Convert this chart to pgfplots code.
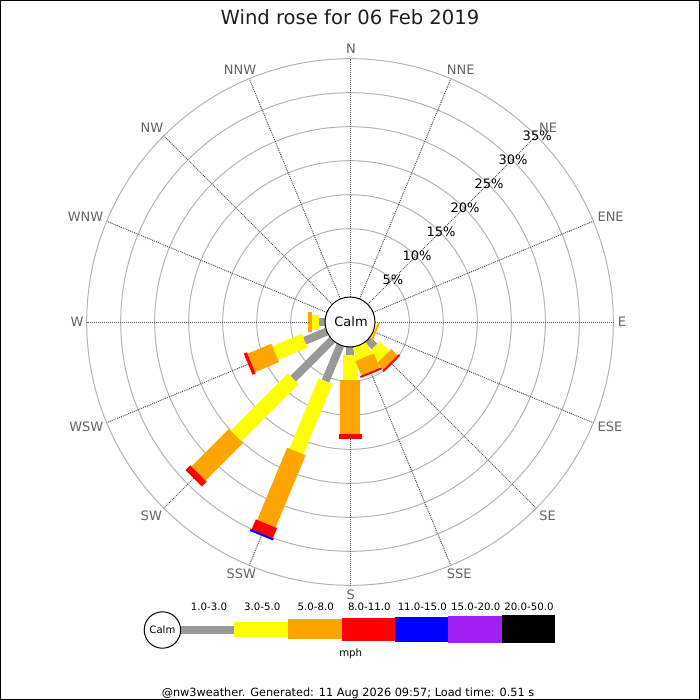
\documentclass[border=0pt]{standalone}
\usepackage{pgfplots}
\pgfplotsset{compat=1.18}
\usepackage{pgfplotstable}
\usepackage{fontspec}
\setmainfont{DejaVu Sans}
\definecolor{wgray}{RGB}{153,153,153}
\definecolor{wyellow}{RGB}{255,255,0}
\definecolor{worange}{RGB}{255,165,0}
\definecolor{wred}{RGB}{255,0,0}
\definecolor{wblue}{RGB}{0,0,255}
\definecolor{wpurple}{RGB}{160,32,240}
\definecolor{ringgray}{RGB}{180,180,180}
\definecolor{spokegray}{RGB}{85,85,85}
\definecolor{labgray}{RGB}{100,100,100}
\definecolor{txt}{RGB}{30,30,30}

% bearing (deg), cumulative % at end of each speed range
\pgfplotstableread{
b     g    y     o     r     bl
112.5 0.0  0.15  0.40  0.40  0.40
135   1.4  3.4   4.7   5.0   5.0
157.5 0.0  1.9   4.2   4.5   4.5
180   1.1  4.8   12.8  13.5  13.5
202.5 5.7  16.9  28.4  30.0  30.3
225   8.1  20.0  27.8  28.8  28.8
247.5 3.5  8.2   12.0  12.5  12.5
270   0.8  1.9   2.5   2.5   2.5
}\wind

\newcommand{\fs}[1]{\fontsize{#1}{#1}\selectfont}

\begin{document}
\begin{tikzpicture}
\begin{axis}[
  scale only axis, width=350pt, height=350pt,
  xmin=0, xmax=700, ymin=0, ymax=700, y dir=reverse,
  hide axis, clip=false,
]
\coordinate (BBa) at (axis cs:0,0);
\coordinate (BBb) at (axis cs:700,700);
% rings
\pgfplotsinvokeforeach{59.3,93.3,127.3,161.3,195.3,229.3,263.3}{
  \draw[ringgray, line width=0.5pt] (axis cs:350,322) circle[radius=#1];
}
% spokes
\pgfplotsinvokeforeach{0,22.5,...,337.5}{
  \draw[spokegray, line width=0.5pt, dash pattern=on 0.5pt off 0.5pt]
    (axis cs:{350+25*sin(#1)},{322-25*cos(#1)}) -- (axis cs:{350+263.3*sin(#1)},{322-263.3*cos(#1)});
}
% bars
\addplot[wgray, line width=4pt,
  quiver={u={6.8*(\thisrow{g})*sin(\thisrow{b})}, v={-6.8*(\thisrow{g})*cos(\thisrow{b})}}]
  table[x expr={350+6.8*3.72*sin(\thisrow{b})}, y expr={322-6.8*3.72*cos(\thisrow{b})}]{\wind};
\addplot[wyellow, line width=7.5pt,
  quiver={u={6.8*(\thisrow{y}-\thisrow{g})*sin(\thisrow{b})}, v={-6.8*(\thisrow{y}-\thisrow{g})*cos(\thisrow{b})}}]
  table[x expr={350+6.8*(3.72+\thisrow{g})*sin(\thisrow{b})}, y expr={322-6.8*(3.72+\thisrow{g})*cos(\thisrow{b})}]{\wind};
\addplot[worange, line width=10pt,
  quiver={u={6.8*(\thisrow{o}-\thisrow{y})*sin(\thisrow{b})}, v={-6.8*(\thisrow{o}-\thisrow{y})*cos(\thisrow{b})}}]
  table[x expr={350+6.8*(3.72+\thisrow{y})*sin(\thisrow{b})}, y expr={322-6.8*(3.72+\thisrow{y})*cos(\thisrow{b})}]{\wind};
\addplot[wred, line width=11.5pt,
  quiver={u={6.8*(\thisrow{r}-\thisrow{o})*sin(\thisrow{b})}, v={-6.8*(\thisrow{r}-\thisrow{o})*cos(\thisrow{b})}}]
  table[x expr={350+6.8*(3.72+\thisrow{o})*sin(\thisrow{b})}, y expr={322-6.8*(3.72+\thisrow{o})*cos(\thisrow{b})}]{\wind};
\addplot[wblue, line width=12.5pt,
  quiver={u={6.8*(\thisrow{bl}-\thisrow{r})*sin(\thisrow{b})}, v={-6.8*(\thisrow{bl}-\thisrow{r})*cos(\thisrow{b})}}]
  table[x expr={350+6.8*(3.72+\thisrow{r})*sin(\thisrow{b})}, y expr={322-6.8*(3.72+\thisrow{r})*cos(\thisrow{b})}]{\wind};
% calm circle
\draw[black, fill=white, line width=0.5pt] (axis cs:350,322) circle[radius=25];
\node[font=\fs{6.5pt}, text=black] at (axis cs:351,322) {Calm};
% ring labels
\pgfplotsinvokeforeach{5,10,...,35}{
  \node[font=\fs{6.5pt}, text=black] at (axis cs:{351+0.7071*(25.3+6.8*#1)},{322-0.7071*(25.3+6.8*#1)}) {#1\%};
}
% direction labels
\begin{scope}[every node/.style={font=\fs{6.5pt}, text=labgray}]
\node at (axis cs:351,49) {N};
\node at (axis cs:460.7,69.3) {NNE};
\node at (axis cs:548,128) {NE};
\node at (axis cs:610.6,216.7) {ENE};
\node at (axis cs:622,322) {E};
\node at (axis cs:610,427) {ESE};
\node at (axis cs:547.7,516) {SE};
\node at (axis cs:459.3,574) {SSE};
\node at (axis cs:350.7,595) {S};
\node at (axis cs:241.3,574) {SSW};
\node at (axis cs:151.3,516) {SW};
\node at (axis cs:86.3,426.7) {WSW};
\node at (axis cs:77,322) {W};
\node at (axis cs:85.5,216.7) {WNW};
\node at (axis cs:152,128) {NW};
\node at (axis cs:240,70) {NNW};
\end{scope}
% title
\node[font=\fs{9.8pt}, text=txt] at (axis cs:350,17) {Wind rose for 06 Feb 2019};
% legend
\draw[black, line width=0.5pt] (axis cs:162.4,630) circle[radius=18.2];
\node[font=\fs{5.05pt}, text=black] at (axis cs:162.4,630) {Calm};
\fill[wgray]   (axis cs:180.7,625.8) rectangle (axis cs:234.3,634.2);
\fill[wyellow] (axis cs:234.3,621.7) rectangle (axis cs:287.7,636.7);
\fill[worange] (axis cs:287.7,619.0) rectangle (axis cs:341.7,639.3);
\fill[wred]    (axis cs:341.7,617.7) rectangle (axis cs:395.0,640.7);
\fill[wblue]   (axis cs:395.0,616.7) rectangle (axis cs:448.3,641.7);
\fill[wpurple] (axis cs:448.3,615.7) rectangle (axis cs:501.7,642.7);
\fill[black]   (axis cs:501.7,615.0) rectangle (axis cs:555.3,643.3);
\begin{scope}[every node/.style={font=\fs{5.1pt}, text=black}]
\node at (axis cs:209,607) {1.0-3.0};
\node at (axis cs:262.3,607) {3.0-5.0};
\node at (axis cs:315.7,607) {5.0-8.0};
\node at (axis cs:369.3,607) {8.0-11.0};
\node at (axis cs:422.3,607) {11.0-15.0};
\node at (axis cs:475.7,607) {15.0-20.0};
\node at (axis cs:529,607) {20.0-50.0};
\node at (axis cs:350.7,653.5) {mph};
\end{scope}
\node[font=\fs{5.65pt}, text=black] at (axis cs:348,693) {@nw3weather. Generated: 11 Aug 2026 09:57; Load time: 0.51 s};
% frame
\draw[black, line width=0.5pt] (axis cs:0.5,0.5) rectangle (axis cs:699.5,699.5);
\end{axis}
\pgfresetboundingbox
\path[use as bounding box] (BBa) rectangle (BBb);
\end{tikzpicture}
\end{document}
